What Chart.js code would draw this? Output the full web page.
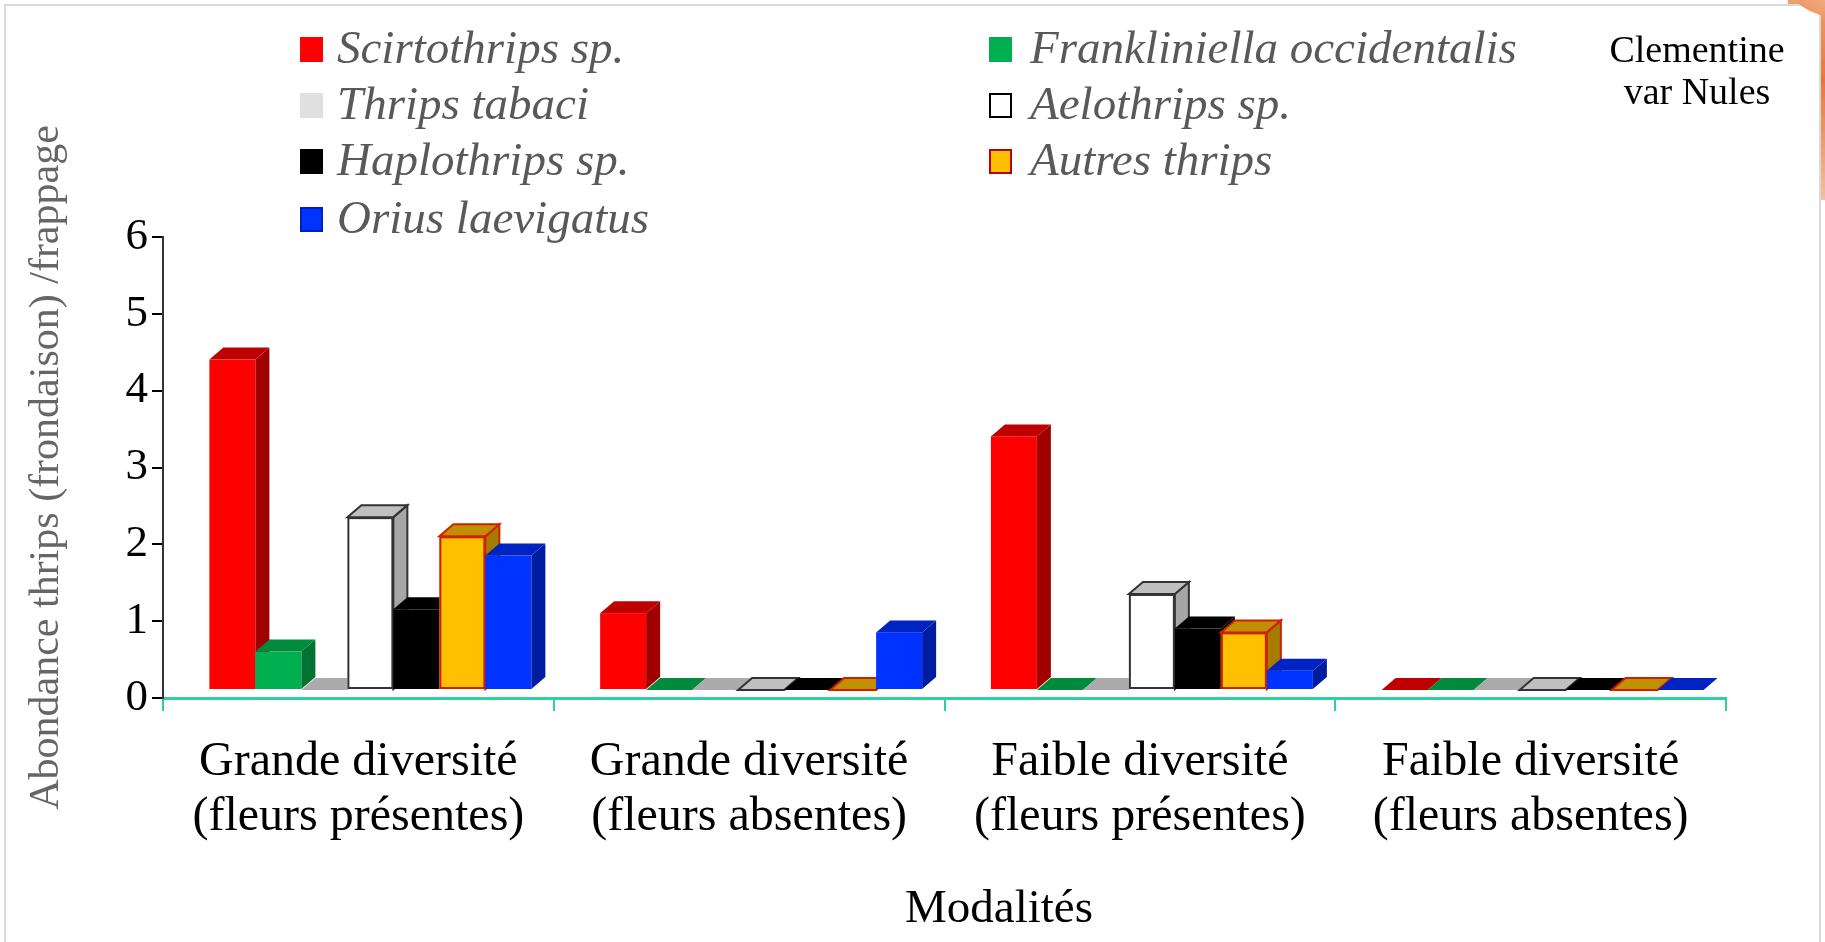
<!DOCTYPE html>
<html>
<head>
<meta charset="utf-8">
<title>Abondance thrips</title>
<script src="https://cdn.jsdelivr.net/npm/chart.js@4.4.1/dist/chart.umd.min.js"></script>
<style>
    body { margin: 0; background: #fff; }
    #wrap { position: relative; width: 1825px; height: 942px; overflow: hidden; }
    #fruit { position: absolute; left: 1788px; top: -40px; width: 70px; height: 240px;
             border-radius: 35px; background: linear-gradient(#f4b38a, #e8763a 50%, #f2c0a0); }
    #fruitTop { position: absolute; left: 1786px; top: -60px; width: 110px; height: 78px;
                border-radius: 50%; background: radial-gradient(#f7c6a4, #e9884f); }
    #frame { position: absolute; left: 4px; top: 4px; width: 1813px; height: 960px;
             border: 2px solid #d9d9d9; background: #fff; }
    canvas { position: absolute; left: 0; top: 0; }
    .serif { font-family: 'Liberation Serif', 'Times New Roman', serif; }
    .leg { position: absolute; font-style: italic; font-size: 47px; color: #595959;
           line-height: 1; white-space: nowrap; }
    .sw { position: absolute; width: 23px; height: 25px; box-sizing: border-box; }
    .note { position: absolute; font-size: 38px; color: #000; text-align: center;
            line-height: 42px; width: 240px; }
    #xtitle { position: absolute; left: 849px; width: 300px; top: 880px; text-align: center;
              font-size: 47px; color: #000; line-height: 52px; }
</style>
</head>
<body>
<div id="wrap">
    <div id="fruit"></div>
    <div id="frame"></div>
    <div id="fruitTop"></div>
    <canvas id="chart" width="1825" height="942"></canvas>
    <div class="note serif" style="left:1577px; top:28px;">Clementine<br>var Nules</div>
    <div id="xtitle" class="serif">Modalités</div>
</div>
<script>
    // Data
    const categories = [
        ['Grande diversité', '(fleurs présentes)'],
        ['Grande diversité', '(fleurs absentes)'],
        ['Faible diversité', '(fleurs présentes)'],
        ['Faible diversité', '(fleurs absentes)']
    ];
    const seriesNames = [
        'Scirtothrips sp.', 'Frankliniella occidentalis', 'Thrips tabaci',
        'Aelothrips sp.', 'Haplothrips sp.', 'Autres thrips', 'Orius laevigatus'
    ];
    const scirtothrips = [4.3, 1.0, 3.3, 0];
    const frankliniella = [0.5, 0, 0, 0];
    const thripsTabaci = [0, 0, 0, 0];
    const aelothrips = [2.25, 0, 1.25, 0];
    const haplothrips = [1.05, 0, 0.8, 0];
    const autresThrips = [2.0, 0, 0.75, 0];
    const oriusLaevigatus = [1.75, 0.75, 0.25, 0];
    const yTicks = [0, 1, 2, 3, 4, 5, 6];

    const seriesValues = [scirtothrips, frankliniella, thripsTabaci, aelothrips,
                          haplothrips, autresThrips, oriusLaevigatus];

    // face colours for the fake 3D columns: front / top / side / outline
    const faces = [
        { front: '#ff0000', top: '#c00000', side: '#a00000', stroke: null, legBorder: null },
        { front: '#00b050', top: '#008a3e', side: '#007333', stroke: null, legBorder: null },
        { front: '#e0e0e0', top: '#ababab', side: '#999999', stroke: null, legBorder: null },
        { front: '#ffffff', top: '#c0c0c0', side: '#a6a6a6', stroke: '#333333', legBorder: '#000' },
        { front: '#000000', top: '#000000', side: '#000000', stroke: null, legBorder: null },
        { front: '#ffc000', top: '#bf9000', side: '#a67c00', stroke: '#d02000', legBorder: '#c00000' },
        { front: '#0033ff', top: '#0024c4', side: '#001ca0', stroke: null, legBorder: '#0020c0' }
    ];

    const DEPTH_X = 14;
    const DEPTH_Y = 12;
    const SHIFT_X = 12;
    const LIFT = 8;

    function poly(ctx, pts, fill, stroke) {
        ctx.beginPath();
        ctx.moveTo(pts[0][0], pts[0][1]);
        for (let k = 1; k < pts.length; k++) ctx.lineTo(pts[k][0], pts[k][1]);
        ctx.closePath();
        ctx.fillStyle = fill;
        ctx.fill();
        if (stroke) { ctx.strokeStyle = stroke; ctx.lineWidth = 2; ctx.stroke(); }
    }

    function drawBox(ctx, l, r, t, b, f) {
        if (b - t > 0.5) {
            ctx.fillStyle = f.front;
            ctx.fillRect(l, t, r - l, b - t);
            if (f.stroke) {
                ctx.strokeStyle = f.stroke; ctx.lineWidth = 2;
                ctx.strokeRect(l + 1, t + 1, r - l - 2, b - t - 2);
            }
            poly(ctx, [[r, t], [r + DEPTH_X, t - DEPTH_Y], [r + DEPTH_X, b - DEPTH_Y], [r, b]], f.side, f.stroke);
        }
        poly(ctx, [[l, t], [r, t], [r + DEPTH_X, t - DEPTH_Y], [l + DEPTH_X, t - DEPTH_Y]], f.top, f.stroke);
    }

    const bar3d = {
        id: 'bar3d',
        afterDatasetsDraw(chart) {
            const ctx = chart.ctx;
            ctx.save();
            ctx.translate(SHIFT_X, -LIFT);
            for (let j = 0; j < categories.length; j++) {
                chart.data.datasets.forEach((ds, i) => {
                    const el = chart.getDatasetMeta(i).data[j];
                    const p = el.getProps(['x', 'y', 'base', 'width'], true);
                    drawBox(ctx, p.x - p.width / 2, p.x + p.width / 2, p.y, p.base, faces[i]);
                });
            }
            ctx.restore();
        }
    };

    // legend in two columns
    const wrap = document.getElementById('wrap');
    const legRows = [49, 105, 161, 219];
    const legCols = [{ sw: 300, tx: 337 }, { sw: 989, tx: 1030 }];
    seriesNames.forEach((name, i) => {
        const col = legCols[i % 2];
        const cy = legRows[Math.floor(i / 2)];
        const sw = document.createElement('div');
        sw.className = 'sw';
        sw.style.left = col.sw + 'px';
        sw.style.top = (cy - 12) + 'px';
        sw.style.background = faces[i].front;
        if (faces[i].legBorder) sw.style.border = '2px solid ' + faces[i].legBorder;
        wrap.appendChild(sw);
        const tx = document.createElement('div');
        tx.className = 'leg serif';
        tx.style.left = col.tx + 'px';
        tx.style.top = (cy - 25) + 'px';
        tx.textContent = name;
        wrap.appendChild(tx);
    });

    const serif = "'Liberation Serif', 'Times New Roman', serif";
    const teal = '#2ecfa0';

    new Chart(document.getElementById('chart').getContext('2d'), {
        type: 'bar',
        data: {
            labels: categories,
            datasets: seriesNames.map((name, i) => ({
                label: name,
                data: seriesValues[i],
                backgroundColor: 'rgba(0,0,0,0)',
                borderWidth: 0,
                categoryPercentage: 0.824,
                barPercentage: 1
            }))
        },
        options: {
            responsive: false,
            animation: false,
            events: [],
            layout: { padding: { top: 237, right: 99, left: 0, bottom: 0 } },
            plugins: { legend: { display: false }, tooltip: { enabled: false }, title: { display: false } },
            scales: {
                x: {
                    afterFit(scale) { scale.height = 244; },
                    border: { display: true, color: teal, width: 3 },
                    grid: { drawOnChartArea: false, drawTicks: true, tickLength: 13, color: teal, lineWidth: 2, offset: true },
                    ticks: { color: '#000', font: { family: serif, size: 48, lineHeight: 1.14 }, padding: 24, maxRotation: 0, autoSkip: false }
                },
                y: {
                    min: 0,
                    max: 6,
                    afterFit(scale) { scale.width = 163; },
                    afterBuildTicks(scale) { scale.ticks = yTicks.map(v => ({ value: v })); },
                    border: { display: true, color: '#333', width: 2 },
                    grid: { drawOnChartArea: false, drawTicks: true, tickLength: 11, color: '#000', lineWidth: 2 },
                    ticks: { color: '#000', font: { family: serif, size: 45 }, padding: 4 },
                    title: { display: true, text: 'Abondance thrips (frondaison) /frappage', color: '#666666',
                             font: { family: serif, size: 42 }, padding: { top: 22, bottom: 0 } }
                }
            }
        },
        plugins: [bar3d]
    });
</script>
</body>
</html>
